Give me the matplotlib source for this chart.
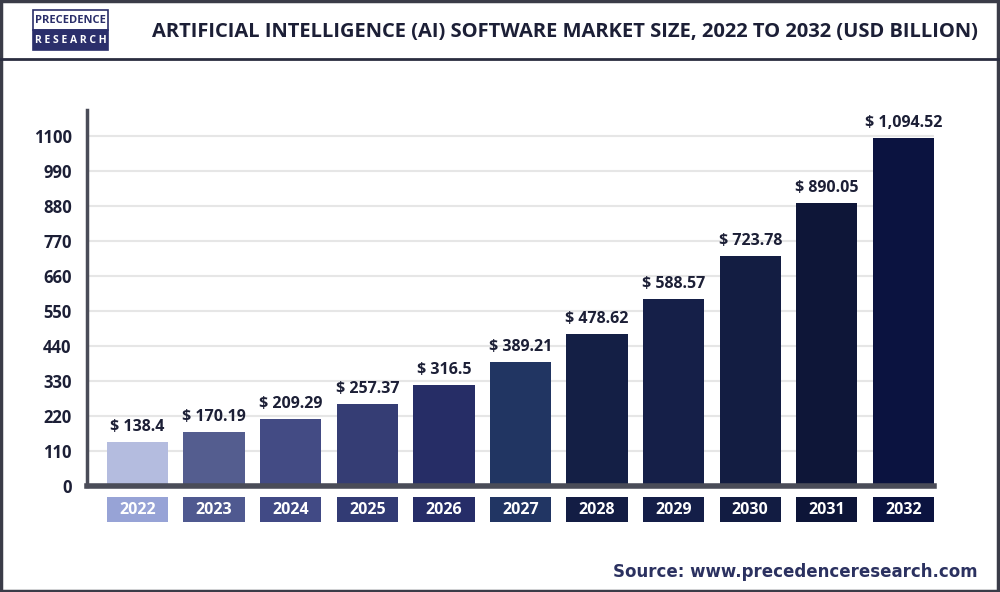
import matplotlib
matplotlib.use("Agg")
import matplotlib.pyplot as plt
from matplotlib.patches import Rectangle
from matplotlib.lines import Line2D

years = ["2022", "2023", "2024", "2025", "2026", "2027",
         "2028", "2029", "2030", "2031", "2032"]
values = [138.4, 170.19, 209.29, 257.37, 316.5, 389.21,
          478.62, 588.57, 723.78, 890.05, 1094.52]
bar_colors = ["#b4bcdf", "#545d8f", "#434b84", "#353d74", "#262d66", "#213562",
              "#141f45", "#151f48", "#131d42", "#0e1638", "#0b1340"]
box_colors = ["#97a3d6", "#4f5990", "#414a85", "#323b74", "#262d68", "#213563",
              "#131d44", "#141e48", "#121c42", "#0d1538", "#0b1340"]
yticks = [0, 110, 220, 330, 440, 550, 660, 770, 880, 990, 1100]

TITLE = "ARTIFICIAL INTELLIGENCE (AI) SOFTWARE MARKET SIZE, 2022 TO 2032 (USD BILLION)"
SOURCE = "Source: www.precedenceresearch.com"

NARROW = ["Open Sans", "DejaVu Sans"]
DARK = "#1c1f36"

fig = plt.figure(figsize=(10, 5.92), dpi=100)
fig.patch.set_facecolor("white")

# plot area
ax = fig.add_axes([0.087, 1 - 486 / 592, 0.847, (486 - 110) / 592])
x = list(range(len(years)))
ax.bar(x, values, width=0.8, color=bar_colors, zorder=3)
ax.set_xlim(-0.66, 10.4)
ax.set_ylim(0, 1182)
ax.set_yticks(yticks)
ax.set_yticklabels([str(t) for t in yticks], family=NARROW, fontstretch="condensed",
                   fontsize=12, fontweight="bold", color=DARK)
ax.set_xticks([])
ax.tick_params(axis="y", length=0, pad=11)
ax.grid(axis="y", color="#e6e6e6", linewidth=1.5, zorder=0)
for s in ["top", "right"]:
    ax.spines[s].set_visible(False)
ax.spines["left"].set_color("#4a4c58")
ax.spines["left"].set_linewidth(2.5)
ax.spines["bottom"].set_color("#4a4c58")
ax.spines["bottom"].set_linewidth(4)
ax.spines["bottom"].set_zorder(4)

for xi, v in zip(x, values):
    ax.annotate(f"$ {v:,}", (xi, v), xytext=(0, 5), textcoords="offset points",
                ha="center", va="bottom", family=NARROW, fontstretch="condensed",
                fontsize=11.5, fontweight="bold", color=DARK)

# year boxes under the axis
tr = ax.get_xaxis_transform()
for xi, yr, c in zip(x, years, box_colors):
    ax.add_patch(Rectangle((xi - 0.4, -0.096), 0.8, 0.067, transform=tr,
                           facecolor=c, clip_on=False, zorder=3))
    ax.text(xi, -0.063, yr, transform=tr, ha="center", va="center",
            family=NARROW, fontstretch="condensed", fontsize=11.5,
            fontweight="bold", color="white")

# header
fig.add_artist(Line2D([0, 1], [1 - 59 / 592] * 2, color="#2a2d40", linewidth=2))
fig.text(978 / 1000, 1 - 32 / 592, TITLE, ha="right", va="center", family=NARROW,
         fontstretch="condensed", fontsize=14.5, fontweight="bold", color=DARK)

# logo
lx0, lx1 = 33 / 1000, 108 / 1000
fig.add_artist(Rectangle((lx0, 1 - 30 / 592), lx1 - lx0, 20 / 592,
                         facecolor="white", edgecolor="#2b2f6b", linewidth=1.2,
                         transform=fig.transFigure))
fig.add_artist(Rectangle((lx0, 1 - 50 / 592), lx1 - lx0, 20 / 592,
                         facecolor="#2b2f6b", edgecolor="#2b2f6b", linewidth=1.2,
                         transform=fig.transFigure))
fig.text((lx0 + lx1) / 2, 1 - 20.5 / 592, "PRECEDENCE", ha="center", va="center",
         family=NARROW, fontstretch="condensed", fontsize=8, fontweight="bold",
         color="#2b2f6b")
fig.text((lx0 + lx1) / 2, 1 - 40.5 / 592, "R E S E A R C H", ha="center", va="center",
         family=NARROW, fontstretch="condensed", fontsize=7.5, fontweight="bold",
         color="white")

# source
fig.text(978 / 1000, 1 - 572 / 592, SOURCE, ha="right", va="center",
         family=["DejaVu Sans"], fontsize=12, fontweight="bold",
         color="#2b3160")

# outer frame
fig.add_artist(Rectangle((0.001, 0.002), 0.997, 0.996, fill=False,
                         edgecolor="#3a3c48", linewidth=2.5,
                         transform=fig.transFigure))

fig.savefig("out.png", dpi=100, facecolor="white")
